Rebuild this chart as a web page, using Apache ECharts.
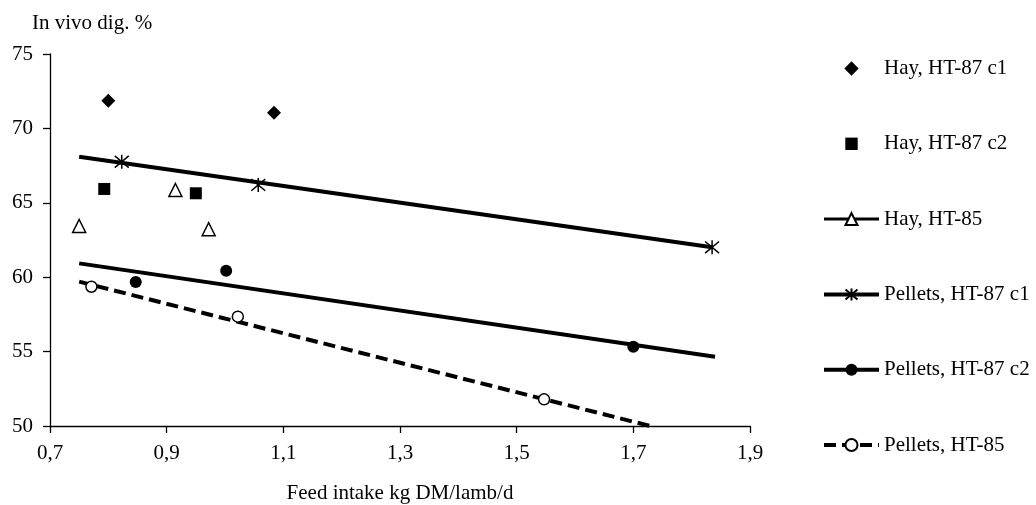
<!DOCTYPE html>
<html>
<head>
<meta charset="utf-8">
<script src="https://cdn.jsdelivr.net/npm/echarts@6/dist/echarts.min.js"></script>
<style>
html,body{margin:0;padding:0;background:#fff;}
#chart{width:1036px;height:505px;}
</style>
</head>
<body>
<div id="chart"></div>
<script>
// ---- data ----
const xTicks = [0.7, 0.9, 1.1, 1.3, 1.5, 1.7, 1.9];
const yTicks = [50, 55, 60, 65, 70, 75];

const hayC1X = [0.80, 1.084];
const hayC1Y = [71.86, 71.06];

const hayC2X = [0.793, 0.95];
const hayC2Y = [65.93, 65.64];

const hay85X = [0.75, 0.915, 0.972];
const hay85Y = [63.44, 65.86, 63.22];

const pelC1X = [0.823, 1.057, 1.835];
const pelC1Y = [67.76, 66.2, 62.01];
const pelC1TrendX = [0.75, 1.835];
const pelC1TrendY = [68.1, 62.01];

const pelC2X = [0.847, 1.002, 1.70];
const pelC2Y = [59.68, 60.44, 55.33];
const pelC2TrendX = [0.75, 1.84];
const pelC2TrendY = [60.93, 54.66];

const pel85X = [0.771, 1.022, 1.547];
const pel85Y = [59.36, 57.35, 51.79];
const pel85TrendX = [0.75, 1.729];
const pel85TrendY = [59.70, 50.0];

const names = ['Hay, HT-87 c1', 'Hay, HT-87 c2', 'Hay, HT-85',
               'Pellets, HT-87 c1', 'Pellets, HT-87 c2', 'Pellets, HT-85'];

// ---- helpers ----
const zip = (xs, ys) => xs.map((x, i) => [x, ys[i]]);
const trend = (xs, ys) => xs.map((x, i) => ({ value: [x, ys[i]], symbol: 'none' }));
const FONT = '"Liberation Serif", "Times New Roman", serif';
const FS = 21;
const ASTERISK = 'path://M0,0L10,10M10,0L0,10M5,-1L5,11';
const DIAMOND_ICON = 'path://M0,0M15,15M7.5,0.3L14.7,7.5L7.5,14.7L0.3,7.5Z';
const SQUARE_ICON = 'path://M0,0M15,15M1.3,1.3L13.7,1.3L13.7,13.7L1.3,13.7Z';

const chart = echarts.init(document.getElementById('chart'), null, { renderer: 'canvas' });

const option = {
  backgroundColor: '#fff',
  animation: false,
  textStyle: { fontFamily: FONT, color: '#000' },
  title: {
    text: 'In vivo dig. %',
    left: 32, top: 13, padding: 0,
    textStyle: { fontFamily: FONT, fontSize: FS, fontWeight: 'normal', color: '#000' }
  },
  grid: { left: 50, right: 286, top: 54, bottom: 79, containLabel: false, outerBoundsMode: 'none' },
  xAxis: {
    type: 'value',
    min: xTicks[0], max: xTicks[xTicks.length - 1], interval: 0.2,
    name: 'Feed intake kg DM/lamb/d',
    nameLocation: 'middle', nameGap: 57,
    nameTextStyle: { fontFamily: FONT, fontSize: FS, color: '#000' },
    axisLine: { lineStyle: { color: '#000', width: 1.3 } },
    axisTick: { show: true, inside: false, length: 7, lineStyle: { color: '#000', width: 1.3 } },
    axisLabel: {
      fontFamily: FONT, fontSize: FS, color: '#000', margin: 17,
      formatter: v => v.toFixed(1).replace('.', ',')
    },
    splitLine: { show: false }
  },
  yAxis: {
    type: 'value',
    min: yTicks[0], max: yTicks[yTicks.length - 1], interval: 5,
    axisLine: { show: true, lineStyle: { color: '#000', width: 1.3 } },
    axisTick: { show: true, inside: false, length: 7, lineStyle: { color: '#000', width: 1.3 } },
    axisLabel: { fontFamily: FONT, fontSize: FS, color: '#000', margin: 17 },
    splitLine: { show: false }
  },
  legend: {
    orient: 'vertical',
    left: 822, top: 58, padding: 0,
    itemWidth: 55, itemHeight: 15,
    itemGap: 54.3,
    symbolKeepAspect: true,
    lineStyle: { width: 4 },
    textStyle: { fontFamily: FONT, fontSize: FS, color: '#000' },
    data: [
      { name: names[0], icon: DIAMOND_ICON },
      { name: names[1], icon: SQUARE_ICON },
      { name: names[2], lineStyle: { opacity: 1, width: 3, color: '#000', type: 'solid' } },
      { name: names[3] },
      { name: names[4] },
      { name: names[5] }
    ]
  },
  series: [
    {
      name: names[0], type: 'scatter',
      symbol: 'diamond', symbolSize: 14,
      itemStyle: { color: '#000', opacity: 1 },
      data: zip(hayC1X, hayC1Y), z: 5
    },
    {
      name: names[1], type: 'scatter',
      symbol: 'rect', symbolSize: 12,
      itemStyle: { color: '#000', opacity: 1 },
      data: zip(hayC2X, hayC2Y), z: 5
    },
    {
      name: names[2], type: 'line',
      symbol: 'triangle', symbolSize: 13, showAllSymbol: true,
      itemStyle: { color: '#fff', borderColor: '#000', borderWidth: 1.5, opacity: 1 },
      lineStyle: { opacity: 0, width: 0, color: '#000' },
      data: zip(hay85X, hay85Y), z: 5
    },
    {
      name: names[3], type: 'line',
      symbol: ASTERISK, symbolSize: 14, showAllSymbol: true,
      itemStyle: { color: '#000', borderColor: '#000', borderWidth: 1.5, opacity: 1 },
      lineStyle: { color: '#000', width: 4 },
      data: trend(pelC1TrendX, pelC1TrendY), z: 3
    },
    {
      name: 'pc1pts', type: 'scatter',
      symbol: ASTERISK, symbolSize: 14,
      itemStyle: { color: '#000', borderColor: '#000', borderWidth: 1.5, opacity: 1 },
      data: zip(pelC1X, pelC1Y), z: 5
    },
    {
      name: names[4], type: 'line',
      symbol: 'circle', symbolSize: 12, showAllSymbol: true,
      itemStyle: { color: '#000', opacity: 1 },
      lineStyle: { color: '#000', width: 4 },
      data: trend(pelC2TrendX, pelC2TrendY), z: 3
    },
    {
      name: 'pc2pts', type: 'scatter',
      symbol: 'circle', symbolSize: 12,
      itemStyle: { color: '#000', opacity: 1 },
      data: zip(pelC2X, pelC2Y), z: 5
    },
    {
      name: names[5], type: 'line',
      symbol: 'circle', symbolSize: 11, showAllSymbol: true,
      itemStyle: { color: '#fff', borderColor: '#000', borderWidth: 1.5, opacity: 1 },
      lineStyle: { color: '#000', width: 4, type: [12, 6] },
      data: trend(pel85TrendX, pel85TrendY), z: 3
    },
    {
      name: 'p85pts', type: 'scatter',
      symbol: 'circle', symbolSize: 11,
      itemStyle: { color: '#fff', borderColor: '#000', borderWidth: 1.5, opacity: 1 },
      data: zip(pel85X, pel85Y), z: 5
    }
  ]
};
chart.setOption(option);
</script>
</body>
</html>
